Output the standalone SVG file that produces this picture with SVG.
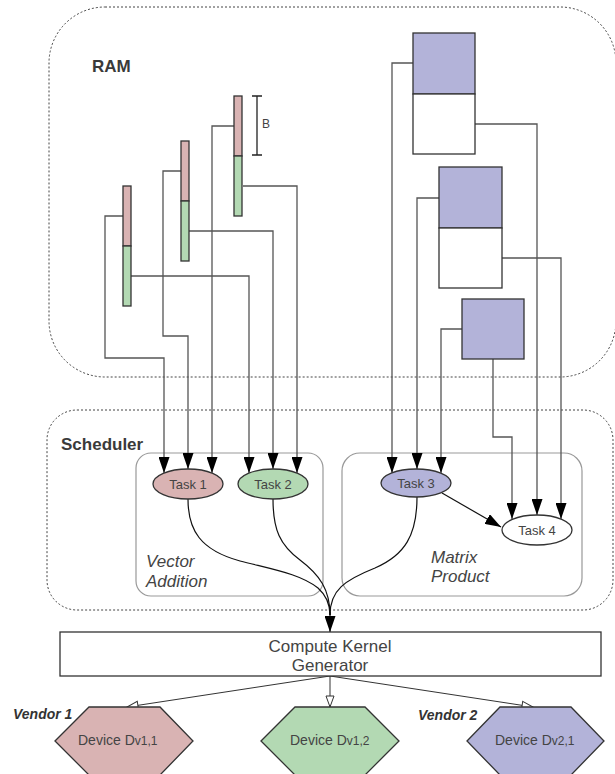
<svg xmlns="http://www.w3.org/2000/svg" width="615" height="774" viewBox="0 0 615 774">
<style>
text{font-family:"Liberation Sans",Arial,sans-serif;fill:#444}
.title{font-size:17px;font-weight:bold;fill:#3a3a3a}
.ital{font-size:17px;font-style:italic}
.task{font-size:13px;text-anchor:middle}
.dev{font-size:14px}
.sub{font-size:12px}
.vendor{font-size:14px;font-weight:bold;font-style:italic;fill:#333}
.region{fill:none;stroke:#444;stroke-width:1;stroke-dasharray:2 2}
.group{fill:none;stroke:#999;stroke-width:1.2}
.red{fill:#d9b3b3;stroke:#333;stroke-width:1.3}
.green{fill:#b3d9b3;stroke:#333;stroke-width:1.3}
.blue{fill:#b3b3d9;stroke:#333;stroke-width:1.3}
.white{fill:#fff;stroke:#333;stroke-width:1.3}
.wire{fill:none;stroke:#555;stroke-width:1.3}
.curve{fill:none;stroke:#111;stroke-width:1.2}
.out{fill:none;stroke:#333;stroke-width:1}
</style>
<defs>
<marker id="arr" viewBox="0 0 16 11" markerWidth="16" markerHeight="11" refX="16" refY="5.5" orient="auto" markerUnits="userSpaceOnUse">
<path d="M0,0 L16,5.5 L0,11 z" fill="#000"/>
</marker>
<marker id="hollow" viewBox="-1 -1 13 10" markerWidth="13" markerHeight="10" refX="11" refY="4" orient="auto" markerUnits="userSpaceOnUse">
<path d="M0,0 L11,4 L0,8 z" fill="#fff" stroke="#333" stroke-width="1"/>
</marker>
</defs>

<g id="ram">
<rect class="region" x="49" y="7" width="567" height="370" rx="56"/>
<text class="title" x="92" y="72">RAM</text>
</g>
<g id="scheduler">
<rect class="region" x="47" y="410" width="566" height="200" rx="30"/>
<text class="title" x="61" y="450">Scheduler</text>
</g>
<g id="vector-addition">
<rect class="group" x="136" y="453" width="187" height="143" rx="15"/>
<text class="ital" x="146" y="567">Vector</text>
<text class="ital" x="146" y="587">Addition</text>
</g>
<g id="matrix-product">
<rect class="group" x="342" y="453" width="240" height="143" rx="18"/>
<text class="ital" x="431" y="563">Matrix</text>
<text class="ital" x="431" y="582">Product</text>
</g>

<g id="connectors">
<path class="wire" d="M123,216 H105 V358 H164 V473" marker-end="url(#arr)"/>
<path class="wire" d="M181,171 H163 V336 H188 V469" marker-end="url(#arr)"/>
<path class="wire" d="M234,126 H212 V473" marker-end="url(#arr)"/>
<path class="wire" d="M131,276 H249 V473" marker-end="url(#arr)"/>
<path class="wire" d="M189,231 H273 V469" marker-end="url(#arr)"/>
<path class="wire" d="M243,186 H297 V473" marker-end="url(#arr)"/>
<path class="wire" d="M413,63 H392 V473" marker-end="url(#arr)"/>
<path class="wire" d="M439,198 H417 V469" marker-end="url(#arr)"/>
<path class="wire" d="M462,329 H441 V473" marker-end="url(#arr)"/>
<path class="wire" d="M475,124 H537 V515" marker-end="url(#arr)"/>
<path class="wire" d="M502,258 H561 V519" marker-end="url(#arr)"/>
<path class="wire" d="M493,359 V437 H512 V519" marker-end="url(#arr)"/>
<path class="curve" d="M442,493 L501,527" marker-end="url(#arr)"/>
<path class="curve" d="M188,499 C188,530 200,550 240,561 C275,570 300,574 318,588 C327,596 330,605 330,615"/>
<path class="curve" d="M273,499 C273,530 280,545 300,560 C320,575 330,590 330,615"/>
<path class="curve" d="M417,497 C417,535 405,555 375,568 C345,580 330,590 330,615"/>
<path class="curve" d="M330,612 V632" marker-end="url(#arr)"/>
<path class="out" d="M330,676 L127,707" marker-end="url(#hollow)"/>
<path class="out" d="M330,676 V707" marker-end="url(#hollow)"/>
<path class="out" d="M330,676 L533,707" marker-end="url(#hollow)"/>
<path d="M252,96 H262 M257,96 V155 M252,155 H262" fill="none" stroke="#222" stroke-width="1.3"/>
<text x="262" y="128" font-size="12">B</text>
</g>

<g id="vector-block-1">
<rect class="red" x="123" y="186" width="8" height="60"/>
<rect class="green" x="123" y="246" width="8" height="60"/>
</g>
<g id="vector-block-2">
<rect class="red" x="181" y="141" width="8" height="60"/>
<rect class="green" x="181" y="201" width="8" height="60"/>
</g>
<g id="vector-block-3">
<rect class="red" x="234" y="96" width="8" height="60"/>
<rect class="green" x="234" y="156" width="8" height="60"/>
</g>
<g id="matrix-block-a">
<rect class="blue" x="413" y="33" width="62" height="61"/>
<rect class="white" x="413" y="94" width="62" height="60"/>
</g>
<g id="matrix-block-b">
<rect class="blue" x="439" y="167" width="63" height="61"/>
<rect class="white" x="439" y="228" width="63" height="60"/>
</g>
<g id="matrix-block-c">
<rect class="blue" x="462" y="299" width="62" height="60"/>
</g>

<g id="task1">
<ellipse cx="188" cy="484" rx="35" ry="15" class="red"/>
<text class="task" x="188" y="489">Task 1</text>
</g>
<g id="task2">
<ellipse cx="273" cy="484" rx="35" ry="15" class="green"/>
<text class="task" x="273" y="489">Task 2</text>
</g>
<g id="task3">
<ellipse cx="416" cy="483" rx="35" ry="14" class="blue"/>
<text class="task" x="416" y="488">Task 3</text>
</g>
<g id="task4">
<ellipse cx="537" cy="530" rx="35" ry="15" class="white"/>
<text class="task" x="537" y="535">Task 4</text>
</g>

<g id="kernel-generator">
<rect x="60" y="632" width="541" height="44" fill="#fff" stroke="#333" stroke-width="1.3"/>
<text x="330" y="652" font-size="17" text-anchor="middle">Compute Kernel</text>
<text x="330" y="671" font-size="17" text-anchor="middle">Generator</text>
</g>

<g id="device-v11">
<polygon class="red" points="55,741 89,707 160,707 193,741 160,775 89,775"/>
<text class="dev" x="78" y="745">Device D<tspan class="sub">v1,1</tspan></text>
</g>
<g id="device-v12">
<polygon class="green" points="261,741 295,707 365,707 399,741 365,775 295,775"/>
<text class="dev" x="290" y="745">Device D<tspan class="sub">v1,2</tspan></text>
</g>
<g id="device-v21">
<polygon class="blue" points="467,741 500,707 571,707 604,741 571,775 500,775"/>
<text class="dev" x="495" y="745">Device D<tspan class="sub">v2,1</tspan></text>
</g>
<g id="vendor1"><text class="vendor" x="13" y="719">Vendor 1</text></g>
<g id="vendor2"><text class="vendor" x="418" y="720">Vendor 2</text></g>
</svg>
